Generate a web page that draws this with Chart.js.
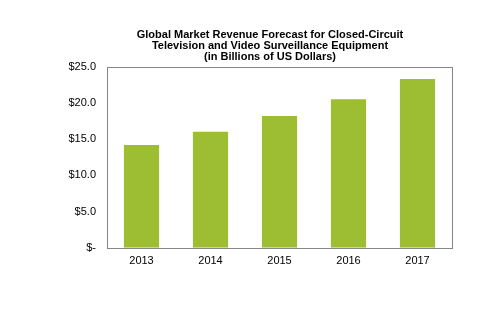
<!DOCTYPE html>
<html>
<head>
<meta charset="utf-8">
<script src="https://cdn.jsdelivr.net/npm/chart.js@4/dist/chart.umd.min.js"></script>
<style>
html,body{margin:0;padding:0;background:#fff;}
#wrap{width:495px;height:330px;position:relative;}
</style>
</head>
<body>
<div id="wrap"><canvas id="c" width="495" height="330"></canvas></div>
<script>
const categories = ["2013", "2014", "2015", "2016", "2017"];
const revenue = [14.2, 16.0, 18.2, 20.5, 23.3];
const yTicks = [0, 5, 10, 15, 20, 25];
const titleLines = ["Global Market Revenue Forecast for Closed-Circuit", "Television and Video Surveillance Equipment", "(in Billions of US Dollars)"];

const frame = {
  id: 'frame',
  afterLayout(chart) {
    if (chart.titleBlock) { chart.titleBlock.left = 88; chart.titleBlock.right = 452; }
  },
  afterDatasetsDraw(chart) {
    const a = chart.chartArea, ctx = chart.ctx;
    ctx.save();
    ctx.strokeStyle = '#868686';
    ctx.lineWidth = 1;
    ctx.strokeRect(Math.round(a.left) + 0.5, Math.round(a.top) + 0.5, Math.round(a.right - a.left), Math.round(a.bottom - a.top));
    ctx.restore();
  }
};

new Chart(document.getElementById('c'), {
  type: 'bar',
  data: {
    labels: categories,
    datasets: [{
      data: revenue,
      backgroundColor: '#9DBE33',
      borderWidth: 0,
      barPercentage: 1.0,
      categoryPercentage: 0.51
    }]
  },
  options: {
    responsive: false,
    animation: false,
    devicePixelRatio: 1,
    layout: { padding: { left: 40, right: 43, top: 0, bottom: 55 } },
    plugins: {
      legend: { display: false },
      tooltip: { enabled: false },
      title: {
        display: true,
        text: titleLines,
        color: '#000',
        font: { family: 'Liberation Sans, Arial', size: 11, weight: 'bold', lineHeight: 1.02 },
        padding: { top: 29, bottom: 4 }
      }
    },
    scales: {
      x: {
        grid: { display: false, drawTicks: false },
        border: { display: false },
        ticks: { color: '#000', font: { family: 'Liberation Sans, Arial', size: 11 }, padding: 7 }
      },
      y: {
        min: 0, max: 25,
        afterFit(s) { s.width = 67; },
        afterBuildTicks(s) { s.ticks = yTicks.map(v => ({ value: v })); },
        grid: { display: false, drawTicks: false },
        border: { display: false },
        ticks: {
          color: '#000',
          font: { family: 'Liberation Sans, Arial', size: 11 },
          padding: 11,
          callback: v => v === 0 ? '$-' : '$' + v.toFixed(1)
        }
      }
    }
  },
  plugins: [frame]
});
</script>
</body>
</html>
